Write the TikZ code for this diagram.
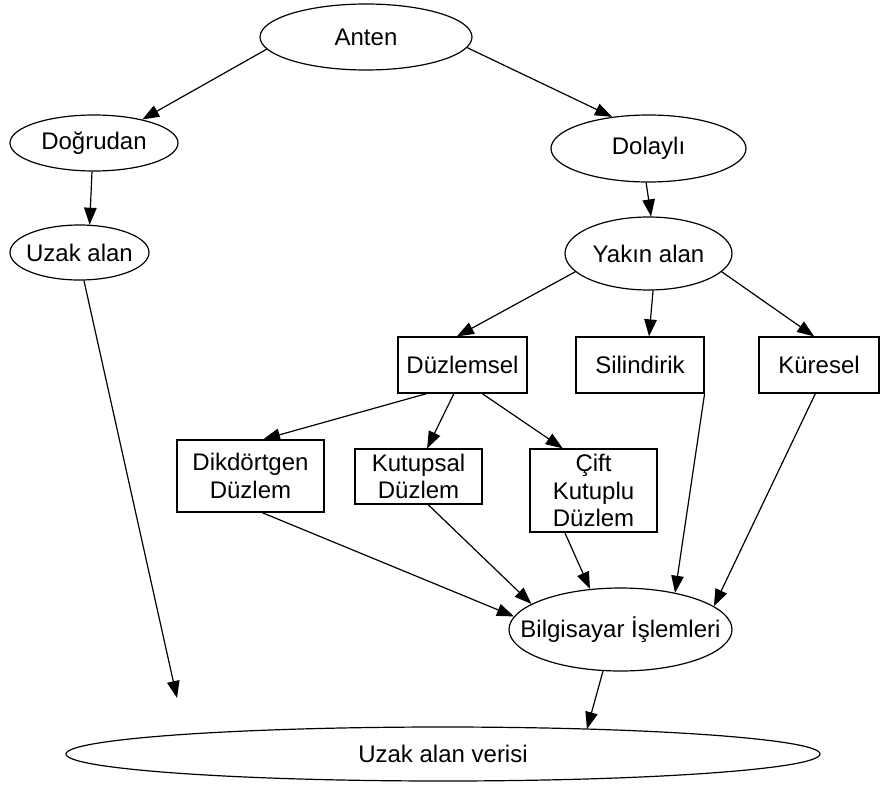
\documentclass[tikz,border=0pt]{standalone}
\usepackage{fontspec}
\setmainfont{Liberation Sans}
\usetikzlibrary{arrows.meta,calc,shapes.geometric}
\newcommand{\zw}[1]{\makebox[0pt]{#1}}
\begin{document}
\begin{tikzpicture}[x=1pt,y=-1pt,
  every node/.style={font=\fontsize{24}{27.5}\selectfont, inner sep=0pt, align=center},
  ell/.style={draw, line width=1.2pt, ellipse},
  box/.style={draw, line width=1.2pt, rectangle},
  arr/.style={draw, line width=1.2pt, -{Triangle[length=17pt,width=12.5pt]}}]
\useasboundingbox (0,0) rectangle (880,784);
% ellipses
\node[ell, minimum width=212pt, minimum height=66pt] (anten) at (366,37) {\zw{Anten}};
\node[ell, minimum width=168pt, minimum height=56pt] (dogru) at (94,143) {\zw{Doğrudan}};
\node[ell, minimum width=195pt, minimum height=67pt] (dolay) at (648.5,148.5) {\zw{Dolaylı}};
\node[ell, minimum width=139pt, minimum height=55pt] (uzak) at (79.5,252.5) {\zw{Uzak alan}};
\node[ell, minimum width=167pt, minimum height=73pt] (yakin) at (648.5,253.5) {\zw{Yakın alan}};
\node[ell, minimum width=223pt, minimum height=83pt] (bilg) at (620.5,629.5) {\zw{Bilgisayar İşlemleri}};
\node[ell, minimum width=754pt, minimum height=54pt] (veri) at (443,754) {\zw{Uzak alan verisi}};
% boxes
\node[box, minimum width=129pt, minimum height=56pt] (duz) at (462.5,365) {Düzlemsel};
\node[box, minimum width=128pt, minimum height=56pt] (sil) at (640,365) {Silindirik};
\node[box, minimum width=120pt, minimum height=56pt] (kur) at (819,365) {Küresel};
\node[box, minimum width=147pt, minimum height=72pt] (dik) at (250.5,476) {Dikdörtgen\\Düzlem};
\node[box, minimum width=127pt, minimum height=55pt] (kut) at (418.5,476.5) {Kutupsal\\Düzlem};
\node[box, minimum width=127pt, minimum height=83pt] (cift) at (593.5,490.5) {Çift\\Kutuplu\\Düzlem};
\coordinate (uzakend) at (177,698);
% connectors
\draw[arr] (anten.187.5) -- (dogru.26);
\draw[arr] (anten.-6.2) -- (dolay.139.2);
\draw[arr] (dogru.266) -- (uzak.70.3);
\draw[arr] (dolay.266.2) -- (yakin.86.5);
\draw[arr] (uzak.279.3) -- (uzakend);
\draw[arr] (yakin.194.9) -- ($(duz.north west)!0.457!(duz.north east)$);
\draw[arr] (yakin.277) -- ($(sil.north west)!0.57!(sil.north east)$);
\draw[arr] (yakin.346) -- ($(kur.north west)!0.46!(kur.north east)$);
\draw[arr] ($(duz.south west)!0.225!(duz.south east)$) -- ($(dik.north west)!0.585!(dik.north east)$);
\draw[arr] ($(duz.south west)!0.434!(duz.south east)$) -- ($(kut.north west)!0.567!(kut.north east)$);
\draw[arr] ($(duz.south west)!0.651!(duz.south east)$) -- ($(cift.north west)!0.26!(cift.north east)$);
\draw[arr] ($(dik.south west)!0.578!(dik.south east)$) -- (bilg.173.4);
\draw[arr] ($(kut.south west)!0.575!(kut.south east)$) -- (bilg.164.7);
\draw[arr] ($(cift.south west)!0.276!(cift.south east)$) -- (bilg.127.2);
\draw[arr] (sil.south east) -- (bilg.34.5);
\draw[arr] ($(kur.south west)!0.47!(kur.south east)$) -- (bilg.14.5);
\draw[arr] ($(bilg.center)+(-17.5,41.5)$) -- ($(veri.center)+(144,-25)$);
\end{tikzpicture}
\end{document}
